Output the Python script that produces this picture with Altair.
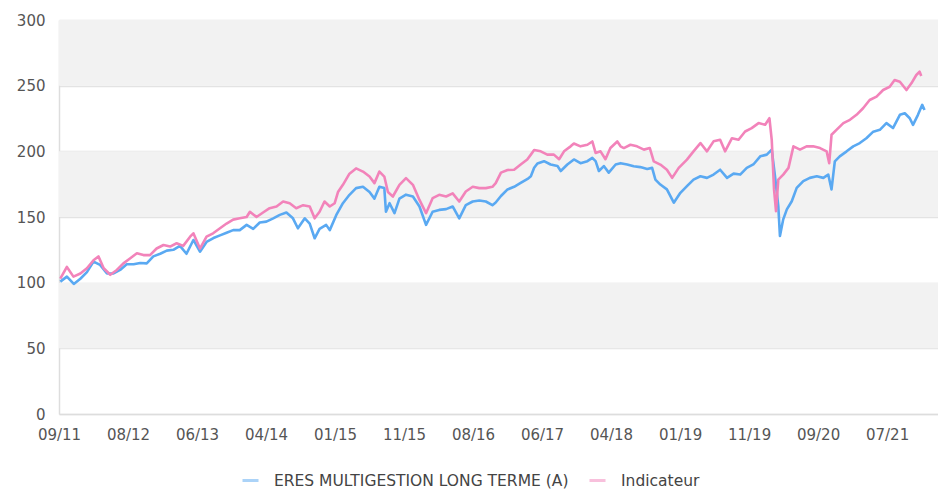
import altair as alt
import pandas as pd

FUND = "ERES MULTIGESTION LONG TERME (A)"
INDEX = "Indicateur"

# x: trading-session index since 09/2011 (one tick label every 210 sessions)
tick_labels = ["09/11", "08/12", "06/13", "04/14", "01/15", "11/15", "08/16",
               "06/17", "04/18", "01/19", "11/19", "09/20", "07/21"]
tick_step = 210

fund_t = [4, 24, 45, 65, 85, 105, 125, 146, 166, 186, 206, 227, 247, 267, 287, 308, 328, 348, 368, 388,
          409, 429, 449, 470, 490, 510, 530, 550, 571, 591, 611, 631, 652, 672, 692, 712, 727, 748, 763, 778,
          793, 813, 824, 844, 864, 884, 904, 925, 945, 960, 975, 990, 995, 1006, 1021, 1036, 1056, 1077, 1097, 1117,
          1137, 1157, 1178, 1198, 1218, 1238, 1259, 1279, 1299, 1319, 1329,
          1345, 1365, 1385, 1405, 1426, 1436, 1446, 1456, 1476, 1496, 1517, 1527, 1547, 1567, 1587, 1608, 1623, 1633,
          1643, 1658, 1673, 1694, 1709,
          1729, 1749, 1769, 1790, 1805, 1815, 1830, 1850, 1871, 1891, 1911, 1931, 1952, 1972, 1992, 2012, 2033, 2053,
          2073, 2093, 2113, 2134, 2154, 2169, 2179, 2189, 2194, 2204, 2215, 2230, 2245, 2265, 2285, 2306, 2326, 2341,
          2351, 2361, 2376, 2397, 2417, 2437, 2457, 2478, 2498, 2518, 2538, 2559, 2574, 2589, 2599, 2614, 2627, 2634]
fund_v = [100.8, 104.6, 99, 103, 108, 116, 113.5, 107, 107, 109.7, 114, 114, 115, 114.7, 120, 122, 124.4, 125, 128, 122,
          132.5, 123.6, 131, 134, 136, 138, 140, 140, 144, 141, 145.8, 146.5, 149, 151.6, 153.4, 149, 141.4, 149, 145, 133.8,
          141, 144, 140, 151.6, 160.5, 166.9, 172, 173, 169, 164, 173, 172, 154, 160.5, 152.9, 164, 167, 165.6, 158, 144,
          154, 155.4, 156, 158, 149, 159, 161.8, 162.5, 161.8, 159, 161,
          166, 171, 173, 176, 179, 181, 187.5, 190.8, 192.5, 190, 188.8, 185, 190, 193.8, 191, 192.5, 195, 192.5,
          185, 188.8, 183.8, 190, 191,
          190, 188.6, 188, 186.6, 187.4, 178.5, 174.7, 171, 160.9, 168.4, 173.5, 178.5, 181, 179.8, 182.3, 186, 179.8, 183,
          182.3, 187.4, 190, 196.2, 197.5, 201.3, 181, 158.3, 135.6, 148.2, 155.8, 162, 172.2, 177.3, 179.8, 181, 179.8, 182.3,
          171, 192.4, 196.2, 200, 203.8, 206.3, 210, 215, 216.4, 221.5, 217.7, 227.8, 229, 225.2, 220.2, 227.8, 235.4, 231.5]

index_t = [4, 24, 44, 65, 85, 105, 120, 136, 156, 176, 196, 217, 237, 257, 277, 297, 318, 338, 358, 378,
           399, 409, 429, 449, 469, 490, 510, 530, 550, 571, 581, 601, 621, 641, 662, 682, 702, 722, 743, 763,
           778, 793, 808, 824, 839, 849, 864, 884, 904, 925, 945, 960, 975, 990, 1001, 1016, 1036, 1056, 1077, 1097,
           1117, 1137, 1157, 1178, 1198, 1218, 1238, 1259, 1279, 1299, 1319, 1329,
           1345, 1365, 1385, 1405, 1425, 1436, 1446, 1466, 1486, 1506, 1522, 1537, 1557, 1567, 1587, 1608, 1623, 1633,
           1648, 1663, 1678, 1699, 1709,
           1719, 1739, 1759, 1780, 1798, 1810, 1830, 1850, 1866, 1886, 1911, 1931, 1952, 1972, 1992, 2012, 2027, 2048,
           2068, 2088, 2108, 2129, 2149, 2162, 2169, 2176, 2182, 2189, 2204, 2220, 2235, 2255, 2275, 2295, 2316, 2336,
           2344, 2351, 2366, 2387, 2407, 2427, 2447, 2467, 2488, 2508, 2528, 2543, 2559, 2579, 2594, 2609, 2619, 2624]
index_v = [103, 112, 104.6, 107, 111, 117, 120, 111, 106, 109.7, 114.7, 118.6, 122.4, 121, 121, 126, 128.7, 127.5, 130, 128,
           135, 137.6, 126, 135, 137.6, 141.4, 145, 148, 149, 150, 154, 150, 153.4, 156.7, 158, 161.8, 160.5, 156.7, 159, 158,
           149, 154, 161.8, 158, 160.5, 169, 174.5, 183, 187, 184.6, 180.8, 175.8, 184.6, 180.8, 169, 165.6, 174.5, 179.6, 174.5, 163,
           152.9, 164.3, 166.9, 165.6, 168, 161.8, 169.4, 173, 172, 172, 173, 175.8,
           183.8, 185.8, 186, 190, 193.8, 197.5, 201, 200, 197.5, 197.5, 194, 200, 203.8, 206, 203.8, 205, 207.5, 198.8,
           200, 194, 202.5, 207.5, 203.8,
           202.5, 205, 203.8, 201.3, 202.5, 192.4, 189.9, 186, 179.8, 187.4, 193.7, 200, 206.3, 200, 207.6, 208.8, 200, 210,
           208.8, 215.1, 217.7, 221.5, 220.2, 225.2, 208.8, 171, 154.5, 178.5, 182.3, 187.4, 203.8, 201.3, 203.8, 203.8, 202.5, 200,
           191, 212.6, 216.4, 221.5, 224, 227.8, 232.8, 239.1, 241.7, 246.7, 249.2, 254.3, 253, 246.7, 251.8, 258.1, 260.6, 257.4]

y_ticks = [0, 50, 100, 150, 200, 250, 300]
band_lo = [50, 150, 250]
band_hi = [100, 200, 300]

df = pd.concat([
    pd.DataFrame({"t": fund_t, "v": fund_v, "serie": FUND, "o": 0}),
    pd.DataFrame({"t": index_t, "v": index_v, "serie": INDEX, "o": 1}),
])
bands = pd.DataFrame({"lo": band_lo, "hi": band_hi})

FONT = "DejaVu Sans"
x_max = 2675
x_scale = alt.Scale(domain=[0, x_max], nice=False, zero=False)
y_scale = alt.Scale(domain=[0, 300], nice=False)

label_js = "[" + ",".join("'%s'" % s for s in tick_labels) + "]"

band_layer = alt.Chart(bands).mark_rect(color="#f2f2f2").encode(
    y=alt.Y("lo:Q", scale=y_scale,
            axis=alt.Axis(values=y_ticks, title=None, grid=True, gridColor="#e3e3e3", gridWidth=1.5,
                          ticks=False, domain=True, domainColor="#dddddd", domainWidth=1.5,
                          labelPadding=14, labelFont=FONT, labelFontSize=15, labelColor="#555555")),
    y2="hi:Q",
    x=alt.value(0),
    x2=alt.value("width"),
)

line_layer = alt.Chart(df).mark_line(strokeWidth=2.6, interpolate="linear", strokeJoin="round").encode(
    x=alt.X("t:Q", scale=x_scale,
            axis=alt.Axis(values=[i * tick_step for i in range(len(tick_labels))],
                          labelExpr=label_js + "[round(datum.value/%d)]" % tick_step,
                          title=None, grid=False, ticks=False, domain=True, domainColor="#dddddd",
                          domainWidth=1.5, labelPadding=13, labelFont=FONT, labelFontSize=15,
                          labelColor="#555555", labelFlush=False, labelOverlap=False)),
    y=alt.Y("v:Q", scale=y_scale),
    color=alt.Color("serie:N",
                    scale=alt.Scale(domain=[FUND, INDEX], range=["#5aa9f2", "#f283ba"]),
                    legend=alt.Legend(title=None, orient="none", direction="horizontal",
                                      legendX=182, legendY=451,
                                      symbolType="stroke", symbolSize=256, symbolStrokeWidth=3,
                                      symbolOpacity=0.5, labelFont=FONT, labelFontSize=15.5,
                                      labelLimit=500,
                                      labelColor="#444444", labelOffset=14, columnPadding=14)),
    order="o:Q",
    detail="serie:N",
)

chart = alt.layer(band_layer, line_layer).resolve_scale(y="shared").properties(
    width=879, height=394,
    autosize=alt.AutoSizeParams(type="none"),
    padding={"left": 51, "top": 12, "right": 0, "bottom": 77},
    background="white",
).configure_view(stroke=None)

chart.save("out.html", embed_options={"renderer": "svg", "actions": False})
